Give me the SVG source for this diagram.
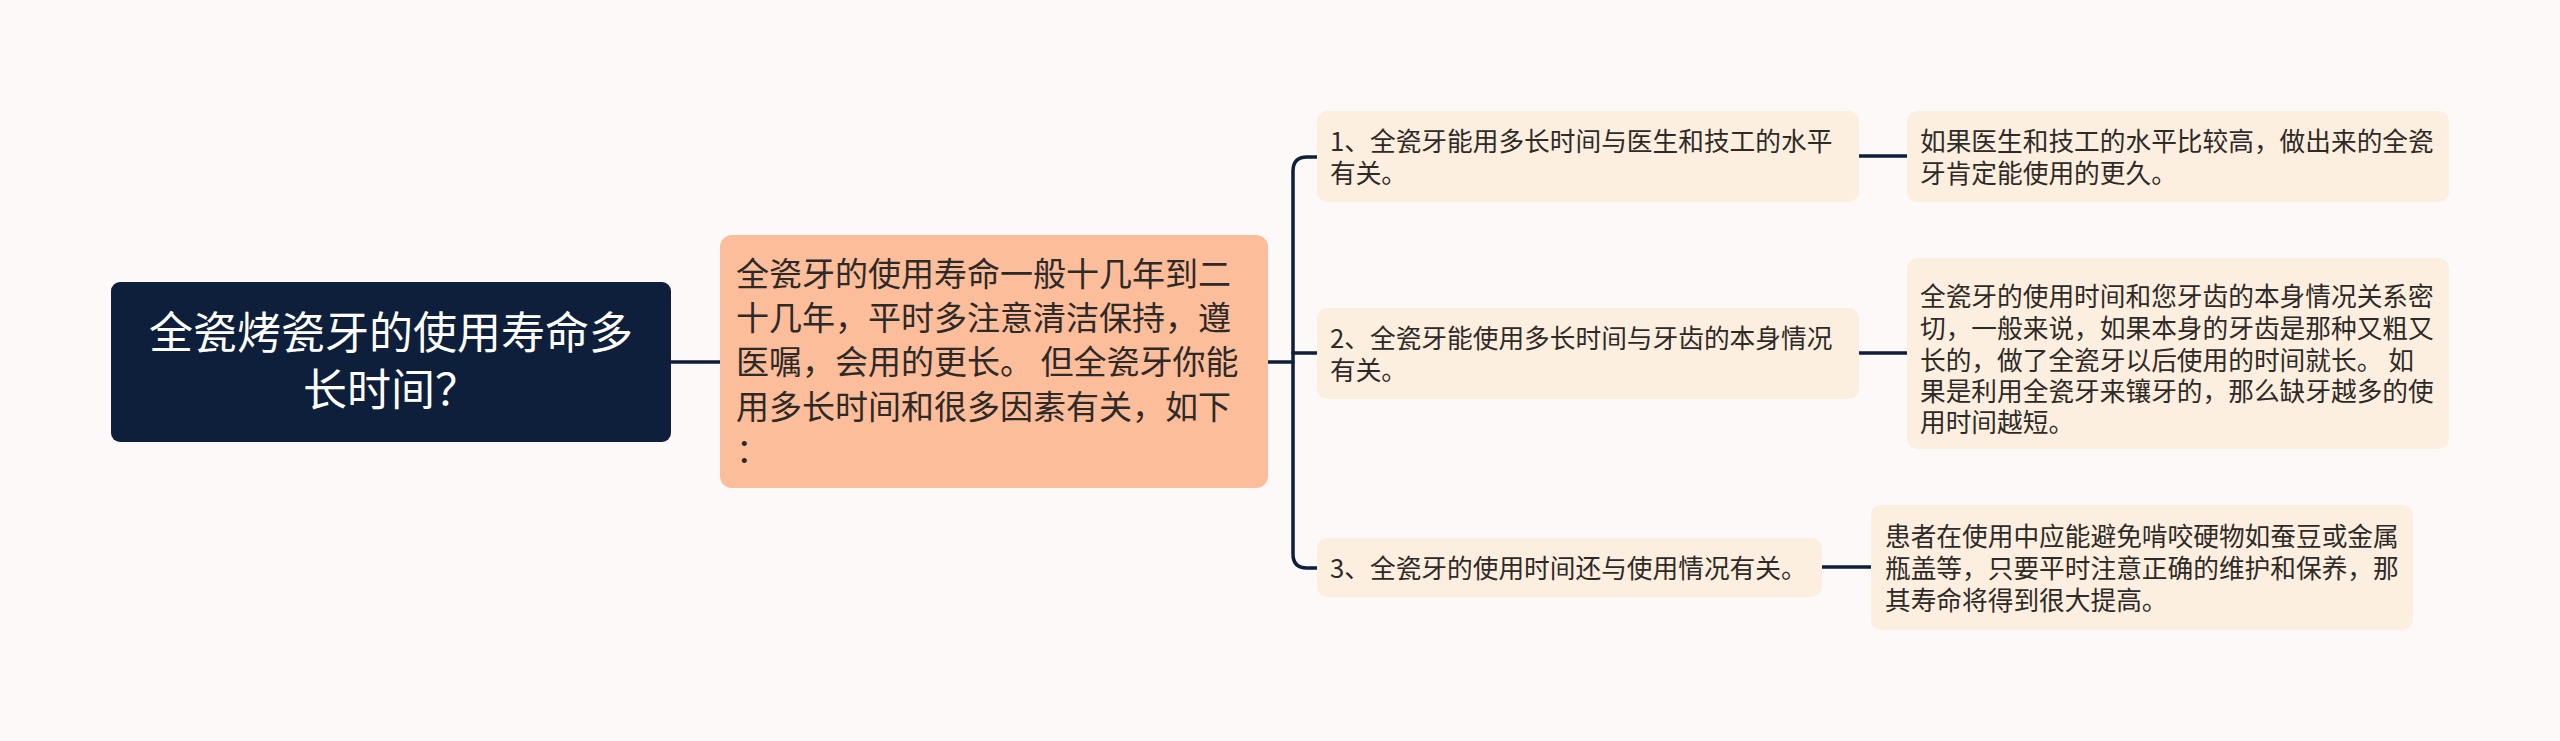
<svg xmlns="http://www.w3.org/2000/svg" width="2560" height="741" viewBox="0 0 2560 741">
<style>
text{font-family:"Noto Sans CJK SC","Noto Sans",sans-serif;}
.root{fill:#0d1f3a;}
.mid{fill:#fcbd9b;}
.leaf{fill:#fdefdf;}
.rt{fill:#ffffff;font-size:44px;text-anchor:middle;}
.mt{fill:#2e2a28;font-size:33px;}
.lt{fill:#2e2a28;font-size:25.7px;}
.conn{fill:none;stroke:#0d1f3a;stroke-width:3.5;stroke-linecap:round;}
</style>
<rect width="2560" height="741" fill="#fdf9f8"/>
<g id="connectors" class="conn">
<path d="M671 362 H720"/>
<path d="M1268 362 H1293"/>
<path d="M1317 157 H1307 Q1293 157 1293 171 V554 Q1293 568 1307 568 H1317"/>
<path d="M1293 353 H1317"/>
<path d="M1859 156 H1907"/>
<path d="M1859 353 H1907"/>
<path d="M1822 567 H1871"/>
</g>
<g id="root">
<rect class="root" x="111" y="282" width="560" height="160" rx="9"/>
<text class="rt" x="391" y="349">全瓷烤瓷牙的使用寿命多</text>
<text class="rt" x="391" y="406">长时间？</text>
</g>
<g id="main">
<rect class="mid" x="720" y="235" width="548" height="253" rx="12"/>
<text class="mt" x="736" y="286">全瓷牙的使用寿命一般十几年到二</text>
<text class="mt" x="736" y="330">十几年，平时多注意清洁保持，遵</text>
<text class="mt" x="736" y="374">医嘱，会用的更长。 但全瓷牙你能</text>
<text class="mt" x="736" y="419">用多长时间和很多因素有关，如下</text>
<text class="mt" x="736" y="462">：</text>
</g>
<g id="n1">
<rect class="leaf" x="1317" y="111" width="542" height="91" rx="10"/>
<text class="lt" x="1330" y="151">1、全瓷牙能用多长时间与医生和技工的水平</text>
<text class="lt" x="1330" y="183">有关。</text>
</g>
<g id="n2">
<rect class="leaf" x="1317" y="308" width="542" height="91" rx="10"/>
<text class="lt" x="1330" y="348">2、全瓷牙能使用多长时间与牙齿的本身情况</text>
<text class="lt" x="1330" y="380">有关。</text>
</g>
<g id="n3">
<rect class="leaf" x="1317" y="538" width="505" height="59" rx="10"/>
<text class="lt" x="1330" y="578">3、全瓷牙的使用时间还与使用情况有关。</text>
</g>
<g id="n1a">
<rect class="leaf" x="1907" y="111" width="542" height="91" rx="10"/>
<text class="lt" x="1920" y="151">如果医生和技工的水平比较高，做出来的全瓷</text>
<text class="lt" x="1920" y="183">牙肯定能使用的更久。</text>
</g>
<g id="n2a">
<rect class="leaf" x="1907" y="258" width="542" height="191" rx="10"/>
<text class="lt" x="1920" y="306">全瓷牙的使用时间和您牙齿的本身情况关系密</text>
<text class="lt" x="1920" y="338">切，一般来说，如果本身的牙齿是那种又粗又</text>
<text class="lt" x="1920" y="370">长的，做了全瓷牙以后使用的时间就长。 如</text>
<text class="lt" x="1920" y="401">果是利用全瓷牙来镶牙的，那么缺牙越多的使</text>
<text class="lt" x="1920" y="432">用时间越短。</text>
</g>
<g id="n3a">
<rect class="leaf" x="1871" y="505" width="542" height="125" rx="10"/>
<text class="lt" x="1885" y="546">患者在使用中应能避免啃咬硬物如蚕豆或金属</text>
<text class="lt" x="1885" y="578">瓶盖等，只要平时注意正确的维护和保养，那</text>
<text class="lt" x="1885" y="610">其寿命将得到很大提高。</text>
</g>
</svg>
